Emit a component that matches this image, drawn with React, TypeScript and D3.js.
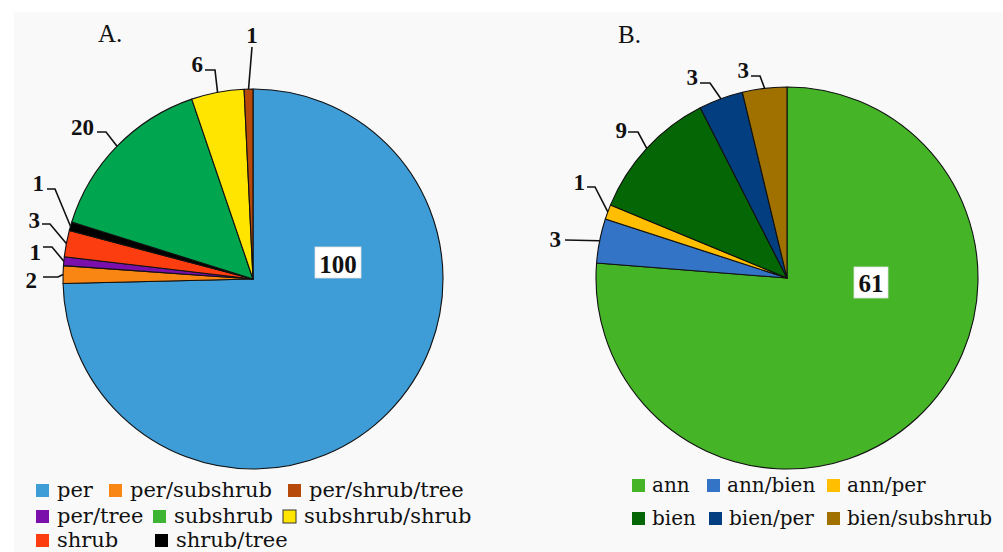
import React from "react";
import * as d3 from "d3";

// ---------- DATA ----------
const catsA = ["per", "per/subshrub", "per/tree", "shrub", "shrub/tree", "subshrub", "subshrub/shrub", "per/shrub/tree"];
const valsA = [100, 2, 1, 3, 1, 20, 6, 1];
const colorsA = ["#3e9cd6", "#f98512", "#7b0fab", "#fb3d10", "#000000", "#00a64f", "#ffe500", "#b7490b"];
const legendRowsA = [
  ["per", "per/subshrub", "per/shrub/tree"],
  ["per/tree", "subshrub", "subshrub/shrub"],
  ["shrub", "shrub/tree"],
];

const catsB = ["ann", "ann/bien", "ann/per", "bien", "bien/per", "bien/subshrub"];
const valsB = [61, 3, 1, 9, 3, 3];
const colorsB = ["#45b527", "#3474c6", "#ffbe00", "#046604", "#033e80", "#a17100"];
const legendRowsB = [
  ["ann", "ann/bien", "ann/per"],
  ["bien", "bien/per", "bien/subshrub"],
];

// ---------- LAYOUT ----------
const W = 1003, H = 552;
const pieA = { cx: 253, cy: 279, r: 190 };
const pieB = { cx: 787, cy: 278, r: 191 };
const legendSwatchOverrideA: Record<string, string> = { subshrub: "#3db533" };

type LL = { tx: number; ty: number; anchor: string; pts: [number, number][] } | null;
const labelLayoutA: LL[] = [
  null,
  { tx: 37, ty: 288, anchor: "end", pts: [[58, 277], [43, 277]] },
  { tx: 41, ty: 260, anchor: "end", pts: [[52, 247], [43, 247]] },
  { tx: 40, ty: 228, anchor: "end", pts: [[50, 224], [42, 224]] },
  { tx: 44, ty: 191, anchor: "end", pts: [[55, 189], [47, 189]] },
  { tx: 94, ty: 135, anchor: "end", pts: [[106, 132], [97, 132]] },
  { tx: 203, ty: 72, anchor: "end", pts: [[215, 70], [205, 70]] },
  { tx: 252, ty: 43, anchor: "middle", pts: [[252, 47]] },
];
const labelLayoutB: LL[] = [
  null,
  { tx: 561, ty: 247, anchor: "end", pts: [[565, 240]] },
  { tx: 585, ty: 190, anchor: "end", pts: [[595, 187], [587, 187]] },
  { tx: 627, ty: 138, anchor: "end", pts: [[638, 132], [628, 132]] },
  { tx: 698, ty: 85, anchor: "end", pts: [[710, 83], [700, 83]] },
  { tx: 749, ty: 78, anchor: "end", pts: [[760, 76], [751, 76]] },
];
const bigLabelA = { x: 338, y: 273, bx: 315, by: 247, bw: 46, bh: 31 };
const bigLabelB = { x: 871, y: 292, bx: 854, by: 267, bw: 34, bh: 31 };

const legendA = { xs: [[36, 109, 288], [36, 153, 283], [36, 155]], ys: [497, 523, 547], textDx: 21, size: 21 };
const legendB = { xs: [[632, 707, 827], [632, 709, 827]], ys: [492, 525], textDx: 20, size: 20 };

const labelFont = "'Liberation Serif', 'Times New Roman', serif";
const legendFont = "'DejaVu Serif', serif";

function Pie({ cats, vals, colors, geo, layout, big }: any) {
  const pie = d3.pie<number>().sort(null).value((d) => d).startAngle(0).endAngle(2 * Math.PI);
  const arcs = pie(vals);
  const arc = d3.arc<d3.PieArcDatum<number>>().innerRadius(0).outerRadius(geo.r);
  return (
    <g>
      <g transform={`translate(${geo.cx},${geo.cy})`}>
        {arcs.map((a, i) => (
          <path key={cats[i]} d={arc(a) || ""} fill={colors[i]} stroke="#111" strokeWidth={1.1} strokeLinejoin="round" />
        ))}
      </g>
      {arcs.map((a, i) => {
        const l = layout[i];
        if (!l) return null;
        const mid = (a.startAngle + a.endAngle) / 2;
        const ex = geo.cx + geo.r * Math.sin(mid);
        const ey = geo.cy - geo.r * Math.cos(mid);
        const pts = [[ex, ey], ...l.pts];
        const line = d3.line()(pts as [number, number][]) || "";
        return (
          <g key={"l" + i}>
            <path d={line} fill="none" stroke="#111" strokeWidth={1.6} />
            <text x={l.tx} y={l.ty} textAnchor={l.anchor} fontFamily={labelFont} fontWeight="bold" fontSize={23} fill="#111">
              {vals[i]}
            </text>
          </g>
        );
      })}
      <rect x={big.bx} y={big.by} width={big.bw} height={big.bh} fill="#fff" stroke="#e0e0e0" strokeWidth={0.8} />
      <text x={big.x} y={big.y} textAnchor="middle" fontFamily={labelFont} fontWeight="bold" fontSize={25} fill="#111">
        {vals[0]}
      </text>
    </g>
  );
}

function Legend({ rows, cats, colors, L, override }: any) {
  const color = d3.scaleOrdinal<string, string>().domain(cats).range(colors);
  return (
    <g>
      {rows.map((row: string[], ri: number) =>
        row.map((name, ci) => {
          const x = L.xs[ri][ci];
          const y = L.ys[ri];
          const fill = (override && override[name]) || color(name);
          return (
            <g key={name}>
              <rect x={x} y={y - 13} width={13} height={13} fill={fill} stroke={name === "subshrub/shrub" ? "#333" : "none"} strokeWidth={1} />
              <text x={x + L.textDx} y={y} fontFamily={legendFont} fontSize={L.size} fill="#111">
                {name}
              </text>
            </g>
          );
        })
      )}
    </g>
  );
}

export default function App() {
  return (
    <svg width={W} height={H} style={{ position: "absolute", left: 0, top: 0 }} xmlns="http://www.w3.org/2000/svg">
      <rect x={0} y={0} width={W} height={H} fill="#ffffff" />
      <rect x={14} y={12} width={W - 14} height={H - 12} fill="#f9f9f9" />
      <text x={98} y={42} fontFamily={labelFont} fontSize={25} fill="#111">A.</text>
      <text x={618} y={43} fontFamily={labelFont} fontSize={25} fill="#111">B.</text>
      <Pie cats={catsA} vals={valsA} colors={colorsA} geo={pieA} layout={labelLayoutA} big={bigLabelA} />
      <Pie cats={catsB} vals={valsB} colors={colorsB} geo={pieB} layout={labelLayoutB} big={bigLabelB} />
      <Legend rows={legendRowsA} cats={catsA} colors={colorsA} L={legendA} override={legendSwatchOverrideA} />
      <Legend rows={legendRowsB} cats={catsB} colors={colorsB} L={legendB} />
    </svg>
  );
}
